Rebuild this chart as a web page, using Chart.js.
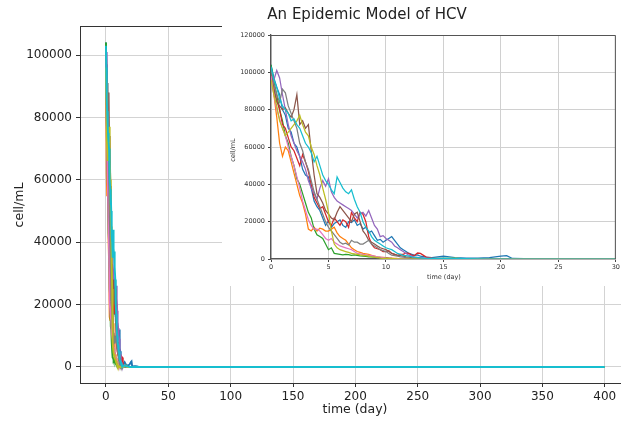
<!DOCTYPE html>
<html><head><meta charset="utf-8">
<script src="https://cdn.jsdelivr.net/npm/chart.js@4/dist/chart.umd.min.js"></script>
<style>
html,body{margin:0;padding:0;background:#fff;}
#wrap{position:relative;width:621px;height:421px;overflow:hidden;background:#fff;}
#main{position:absolute;left:0;top:0;}
#inset{position:absolute;left:222px;top:26px;background:#fff;}
</style></head><body>
<div id="wrap"><canvas id="main" width="621" height="421"></canvas><canvas id="inset" width="399" height="260"></canvas></div>
<script>
const days = [0,0.25,0.5,0.75,1,1.25,1.5,1.75,2,2.25,2.5,2.75,3,3.25,3.5,3.75,4,4.25,4.5,4.75,5,5.25,5.5,5.75,6,6.25,6.5,6.75,7,7.25,7.5,7.75,8,8.25,8.5,8.75,9,9.25,9.5,9.75,10,10.25,10.5,10.75,11,11.25,11.5,11.75,12,12.25,12.5,12.75,13,13.5,14,15,16,17,18,19,20,20.5,21,22,24,26,30,400];
const seriesColors = ['#1f77b4','#ff7f0e','#2ca02c','#d62728','#9467bd','#8c564b','#e377c2','#7f7f7f','#bcbd22','#17becf'];
const run1 = [104000,97000,92000,88000,80000,77000,70000,68000,62000,60000,55000,48000,45000,44000,38000,31000,28000,26000,22000,18000,20500,17000,19000,20000,21000,18000,17000,20000,19500,21000,18000,19000,16000,17000,14000,15000,12500,10000,10500,9000,10000,11000,12000,10000,8000,6000,5000,4000,3000,2500,2000,2200,1500,1000,800,1500,800,500,500,800,1600,1800,300,200,200,100,0,0];
const run2 = [100000,88000,76000,62000,55000,60000,58000,52000,46000,40000,34000,30000,24000,16000,15000,17000,15000,16500,16000,15000,15000,16000,17000,14000,12000,11000,10000,8000,6000,5000,4000,3500,3000,2800,2500,2000,1500,1200,1000,900,800,600,500,400,300,250,200,150,100,50,0,0,0,0,0,0,0,0,0,0,0,0,0,0,0,0,0,0];
const run3 = [104000,95000,88000,80000,74000,66000,62000,55000,50000,43000,40000,35000,30000,25000,22000,16000,13000,12000,11000,8000,5000,6000,3000,2800,2500,2200,2500,2300,2000,2200,2000,1700,1500,1400,1200,1100,1000,900,800,600,500,400,300,250,200,150,100,50,0,0,0,0,0,0,0,0,0,0,0,0,0,0,0,0,0,0,0,0];
const run4 = [98000,90000,85000,80000,72000,70000,65000,60000,58000,54000,50000,56000,52000,47000,40000,33000,30000,27000,28000,24000,20000,18000,22000,20000,18000,21000,20000,17000,25000,22000,20000,25000,24000,20000,12000,8000,6000,5500,5000,4000,4000,4500,3000,2500,2000,2500,2500,3200,3000,2000,2000,3200,3000,1000,500,300,0,0,0,0,0,0,0,0,0,0,0,0];
const run5 = [100000,96000,101000,97000,88000,80000,72000,66000,62000,58000,55000,52000,48000,42000,38000,35000,32000,38000,42000,39000,43000,36000,33000,31000,30000,29000,28000,27000,26000,24000,22000,24000,25000,23000,26000,22000,18000,16000,12000,12500,11000,10000,9000,7000,6000,5000,4000,3000,2000,1500,1000,900,800,500,300,200,0,0,0,0,0,0,0,0,0,0,0,0];
const run6 = [102000,92000,84000,82000,80000,81000,78000,76000,80000,88000,72000,74000,70000,72000,58000,45000,35000,33000,30000,26000,24000,22000,21000,25000,28000,26000,24000,22000,20000,24000,25000,20000,15000,13000,10000,9000,8000,7000,6000,5500,5000,4000,3000,2500,2000,1800,1500,1200,1000,700,500,400,300,200,100,0,0,0,0,0,0,0,0,0,0,0,0,0];
const run7 = [98000,88000,80000,75000,70000,66000,60000,55000,50000,44000,38000,31000,26000,21000,18000,16000,16000,15000,13000,11000,10000,11000,9000,8000,7000,6500,6000,5500,5000,4000,3000,2800,2500,2200,2000,1800,1500,1200,1000,800,500,400,300,250,200,150,100,50,0,0,0,0,0,0,0,0,0,0,0,0,0,0,0,0,0,0,0,0];
const run8 = [102000,94000,88000,84000,91000,89000,82000,78000,74000,70000,62000,58000,52000,48000,42000,36000,32000,28000,24000,20000,17000,15000,13000,11000,9000,8000,8500,7500,10000,9000,9000,8000,8000,9000,10000,8000,7000,6000,5000,4500,4000,3000,2000,1800,1500,1200,1000,700,500,400,300,250,200,100,0,0,0,0,0,0,0,0,0,0,0,0,0,0];
const run9 = [96000,88000,82000,74000,70000,66000,68000,70000,72000,74000,77000,72000,68000,66000,60000,56000,50000,45000,38000,32000,25000,15000,8000,6000,5000,4500,4000,3500,3000,2800,2500,2200,2000,1800,1500,1200,1000,800,500,400,300,250,200,150,100,50,0,0,0,0,0,0,0,0,0,300,500,0,0,0,0,0,0,0,0,0,0,0];
const run10 = [103000,96000,92000,86000,82000,80000,78000,74000,75000,72000,70000,66000,62000,60000,57000,52000,55000,50000,45000,42000,40000,37000,35000,44000,41000,38000,36000,35000,37000,32000,28000,25000,20000,17000,15000,12000,10000,9000,8000,7000,6000,5500,5000,4000,3000,2500,2000,1800,1500,1200,1000,800,600,400,300,500,300,200,100,0,0,0,0,0,0,0,0,0];
const runs = [run1,run2,run3,run4,run5,run6,run7,run8,run9,run10];
const mainXTicks = [0,50,100,150,200,250,300,350,400];
const mainYTicks = [0,20000,40000,60000,80000,100000];
const insetXTicks = [0,5,10,15,20,25,30];
const insetYTicks = [0,20000,40000,60000,80000,100000,120000];
const titleText = 'An Epidemic Model of HCV';
const xLabel = 'time (day)';
const yLabel = 'cell/mL';

const FONT = "'DejaVu Sans', sans-serif";

function makeDatasets(width) {
  return runs.map((vals, i) => ({
    label: 'run ' + (i + 1),
    data: days.map((d, k) => ({x: d, y: vals[k]})),
    borderColor: seriesColors[i],
    backgroundColor: seriesColors[i],
    borderWidth: width,
    pointRadius: 0,
    tension: 0,
    fill: false,
    order: runs.length - i
  }));
}

function textPlugin(items) {
  return {
    id: 'texts',
    afterDraw(chart) {
      const ctx = chart.ctx;
      items.forEach(t => {
        ctx.save();
        ctx.font = t.size + 'px ' + FONT;
        ctx.fillStyle = t.color || '#222';
        ctx.textAlign = 'center';
        ctx.textBaseline = 'middle';
        ctx.translate(t.x, t.y);
        if (t.rot) ctx.rotate(t.rot);
        ctx.fillText(t.text, 0, 0);
        ctx.restore();
      });
    }
  };
}

function ticksFrom(arr) {
  return function(scale) { scale.ticks = arr.map(v => ({value: v})); };
}
const plain = v => String(v);

new Chart(document.getElementById('main'), {
  type: 'line',
  data: { datasets: makeDatasets(1.9) },
  options: {
    responsive: false,
    animation: false,
    devicePixelRatio: 1,
    layout: { padding: { top: 26, left: 0, right: 0, bottom: 0 } },
    plugins: { legend: { display: false }, tooltip: { enabled: false } },
    scales: {
      x: {
        type: 'linear', min: -20.8, max: 413,
        afterBuildTicks: ticksFrom(mainXTicks),
        afterFit(s) { s.height = 38; },
        grid: { color: '#d3d3d3', lineWidth: 1, tickLength: 4, tickColor: '#333' },
        border: { color: '#333', width: 1 },
        ticks: { autoSkip: false, maxRotation: 0, padding: 3, color: '#222', callback: plain, font: { family: FONT, size: 12 } }
      },
      y: {
        type: 'linear', min: -5150, max: 109300,
        afterBuildTicks: ticksFrom(mainYTicks),
        afterFit(s) { s.width = 80; },
        grid: { color: '#d3d3d3', lineWidth: 1, tickLength: 4, tickColor: '#333' },
        border: { color: '#333', width: 1 },
        ticks: { autoSkip: false, padding: 4, color: '#222', callback: plain, font: { family: FONT, size: 12 } }
      }
    }
  },
  plugins: [
    {
      id: 'topBorder',
      afterDraw(chart) {
        const a = chart.chartArea, ctx = chart.ctx;
        ctx.save(); ctx.strokeStyle = '#333'; ctx.lineWidth = 1;
        ctx.beginPath(); ctx.moveTo(a.left, a.top + 0.5); ctx.lineTo(a.right, a.top + 0.5); ctx.stroke();
        ctx.restore();
      }
    },
    textPlugin([
      { text: titleText, x: 367, y: 15, size: 15 },
      { text: xLabel, x: 355, y: 410, size: 12.5 },
      { text: yLabel, x: 20, y: 205, size: 12.5, rot: -Math.PI / 2 }
    ])
  ]
});

new Chart(document.getElementById('inset'), {
  type: 'line',
  data: { datasets: makeDatasets(1.25) },
  options: {
    responsive: false,
    animation: false,
    devicePixelRatio: 1,
    layout: { padding: { top: 9, left: 0, right: 4, bottom: 0 } },
    plugins: { legend: { display: false }, tooltip: { enabled: false } },
    scales: {
      x: {
        type: 'linear', min: 0, max: 30,
        afterBuildTicks: ticksFrom(insetXTicks),
        afterFit(s) { s.height = 27; },
        grid: { color: '#d0d0d0', lineWidth: 1, tickLength: 3, tickColor: '#444' },
        border: { color: '#555', width: 1.3 },
        ticks: { autoSkip: false, maxRotation: 0, padding: 1, color: '#333', callback: plain, font: { family: FONT, size: 6.5 } }
      },
      y: {
        type: 'linear', min: 0, max: 120000,
        afterBuildTicks: ticksFrom(insetYTicks),
        afterFit(s) { s.width = 49; },
        grid: { color: '#d0d0d0', lineWidth: 1, tickLength: 3, tickColor: '#444' },
        border: { color: '#555', width: 1.3 },
        ticks: { autoSkip: false, padding: 3, color: '#333', callback: plain, font: { family: FONT, size: 6.5 } }
      }
    }
  },
  plugins: [
    {
      id: 'frame',
      afterDraw(chart) {
        const a = chart.chartArea, ctx = chart.ctx;
        ctx.save(); ctx.strokeStyle = '#555'; ctx.lineWidth = 1;
        ctx.beginPath();
        ctx.moveTo(a.left, a.top + 0.5); ctx.lineTo(a.right - 0.5, a.top + 0.5); ctx.lineTo(a.right - 0.5, a.bottom);
        ctx.stroke();
        ctx.restore();
      }
    },
    textPlugin([
      { text: xLabel, x: 222, y: 251, size: 6.5, color: '#333' },
      { text: yLabel, x: 11, y: 124, size: 6.5, color: '#333', rot: -Math.PI / 2 }
    ])
  ]
});
</script>
</body></html>
